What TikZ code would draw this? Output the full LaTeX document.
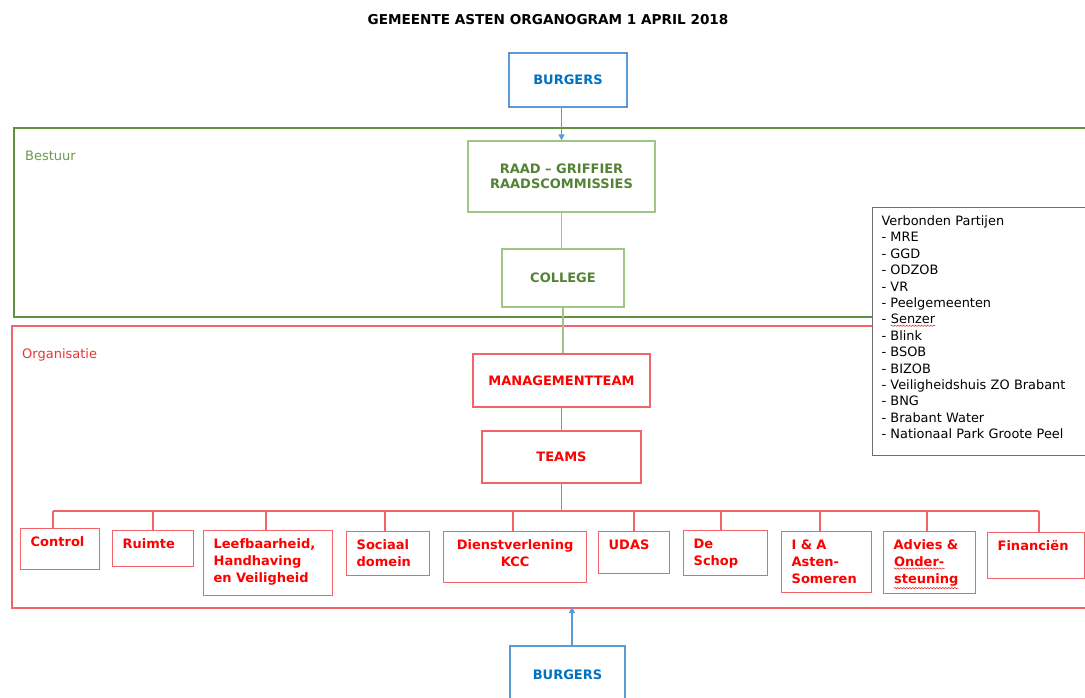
\documentclass[tikz,border=0pt]{standalone}
\usepackage{fontspec}
\setmainfont{DejaVu Sans}
\usetikzlibrary{arrows.meta, positioning, decorations.pathmorphing}
\definecolor{burgerline}{RGB}{91,155,213}
\definecolor{burgertxt}{RGB}{0,112,192}
\definecolor{bestuurline}{RGB}{98,146,64}
\definecolor{bestuurtxt}{RGB}{106,153,78}
\definecolor{greenline}{RGB}{160,198,135}
\definecolor{greentxt}{RGB}{84,130,53}
\definecolor{orgline}{RGB}{242,100,105}
\definecolor{orgtxt}{RGB}{240,50,50}
\definecolor{redtxt}{RGB}{255,0,0}
\definecolor{partijline}{RGB}{110,110,110}
\definecolor{spellred}{RGB}{230,30,30}
\newcommand{\redwave}[1]{\tikz[baseline=(w.base)]{\node[inner sep=0pt] (w) {#1};
  \draw[spellred, line width=0.5pt, decorate, decoration={snake, amplitude=0.7pt, segment length=3pt}]
    ([yshift=-1.5pt]w.south west) -- ([yshift=-1.5pt]w.south east);}}

\begin{document}
\begin{tikzpicture}[x=1pt, y=-1pt,
  boxfont/.style={font=\fontsize{13}{15}\selectfont\bfseries},
  burgerbox/.style={boxfont, draw=burgerline, line width=1.3pt, text=burgertxt, inner sep=0pt},
  greenbox/.style={boxfont, draw=greenline, line width=1.3pt, text=greentxt, inner sep=0pt, align=center},
  redbox/.style={boxfont, draw=orgline, line width=1.3pt, text=redtxt, inner sep=0pt},
  team/.style={font=\fontsize{13}{17}\selectfont\bfseries, draw=orgline, line width=1.3pt, text=redtxt,
    anchor=north west, inner xsep=10pt, inner ysep=8pt, text height=10pt, align=left},
  redlink/.style={orgline, line width=1.4pt},
  greenlink/.style={greenline, line width=1.4pt},
  frame/.style={anchor=north west, inner sep=0pt, minimum width=1100pt},
  framelabel/.style={font=\fontsize{13}{15}\selectfont, anchor=west, inner sep=0pt},
  arrow/.style={draw=burgerline, line width=1.3pt, -{Triangle[length=6pt,width=6pt]}}]
  \useasboundingbox (0,0) rectangle (1085,698);
  \clip (0,0) rectangle (1085,698);

  \node[font=\fontsize{13.6}{15}\selectfont\bfseries] (title) at (548,20) {GEMEENTE ASTEN ORGANOGRAM 1 APRIL 2018};

  % kaders
  \node[frame, draw=bestuurline, line width=1.7pt, minimum height=189pt] (bestuur) at (13,127) {};
  \node[framelabel, text=bestuurtxt] (bestuurlbl) at (25,156) {Bestuur};
  \node[frame, draw=orgline, line width=1.5pt, minimum height=282pt] (organisatie) at (11,325) {};
  \node[framelabel, text=orgtxt] (organisatielbl) at (22,355) {Organisatie};

  % bovenkant
  \node[burgerbox, minimum width=118pt, minimum height=54pt] (burgers) at (568,80) {BURGERS};
  \node[greenbox, minimum width=187pt, minimum height=71pt] (raad) at (561.5,176.5) {RAAD -- GRIFFIER\\RAADSCOMMISSIES};
  \node[greenbox, minimum width=122pt, minimum height=58pt] (college) at (563,278) {COLLEGE};
  \node[redbox, minimum width=177pt, minimum height=53pt] (mt) at (561.5,380.5) {MANAGEMENTTEAM};
  \node[redbox, minimum width=159pt, minimum height=52pt] (teams) at (561.5,457) {TEAMS};

  \draw[arrow] (raad.north |- burgers.south) -- (raad.north);
  \draw[greenlink] (raad.south) -- (raad.south |- college.north);
  \draw[greenlink] (college.south) -- (college.south |- mt.north);
  \draw[redlink] (mt.south) -- (mt.south |- teams.north);

  % teams
  \node[team, text width=59pt, text depth=15pt] (control) at (20,528) {Control};
  \node[team, text width=61pt, text depth=10pt] (ruimte) at (112,530) {Ruimte};
  \node[team, text width=109pt, text depth=39pt] (leefbaar) at (203,530) {Leefbaarheid,\\Handhaving\\en Veiligheid};
  \node[team, text width=63pt, text depth=18pt] (sociaal) at (346,531) {Sociaal\\domein};
  \node[team, text width=123pt, text depth=25pt, align=center] (kcc) at (443,531) {Dienstverlening\\KCC};
  \node[team, text width=51pt, text depth=16pt] (udas) at (598,531) {UDAS};
  \node[team, text width=64pt, text depth=19pt] (schop) at (683,530) {De\\Schop};
  \node[team, text width=70pt, text depth=35pt] (asten) at (781,531) {I \& A\\Asten-\\Someren};
  \node[team, text width=72pt, text depth=36pt] (advies) at (883,531) {Advies \&\\\redwave{Onder-}\\\redwave{steuning}};
  \node[team, text width=77pt, text depth=20pt] (financien) at (987,532) {Financiën};

  \coordinate (d1) at (53,511);
  \coordinate (d2) at (153,511);
  \coordinate (d3) at (266,511);
  \coordinate (d4) at (385,511);
  \coordinate (d5) at (513,511);
  \coordinate (d6) at (634,511);
  \coordinate (d7) at (721,511);
  \coordinate (d8) at (820,511);
  \coordinate (d9) at (927,511);
  \coordinate (d10) at (1039,511);
  \draw[redlink] (teams.south) -- (teams.south |- d1);
  \draw[redlink] (d1) -- (d10);
  \foreach \d/\t in {d1/control, d2/ruimte, d3/leefbaar, d4/sociaal, d5/kcc, d6/udas, d7/schop, d8/asten, d9/advies, d10/financien}
    \draw[redlink] (\d) -- (\d |- \t.north);

  % verbonden partijen
  \node[draw=partijline, line width=1pt, fill=white, anchor=north west, inner xsep=9pt, inner ysep=7pt,
    text width=240pt, text height=11pt, text depth=223pt, align=left,
    font=\fontsize{12.9}{16.4}\selectfont] (partijen) at (872,207)
    {Verbonden Partijen\\- MRE\\- GGD\\- ODZOB\\- VR\\- Peelgemeenten\\- \redwave{Senzer}\\- Blink\\- BSOB\\- BIZOB\\- Veiligheidshuis ZO Brabant\\- BNG\\- Brabant Water\\- Nationaal Park Groote Peel};

  % onderkant
  \node[burgerbox, minimum width=115pt, minimum height=58pt] (burgersonder) at (567.5,675) {BURGERS};
  \coordinate (inorg) at (572,607);
  \draw[arrow] (inorg |- burgersonder.north) -- (inorg);
\end{tikzpicture}
\end{document}
